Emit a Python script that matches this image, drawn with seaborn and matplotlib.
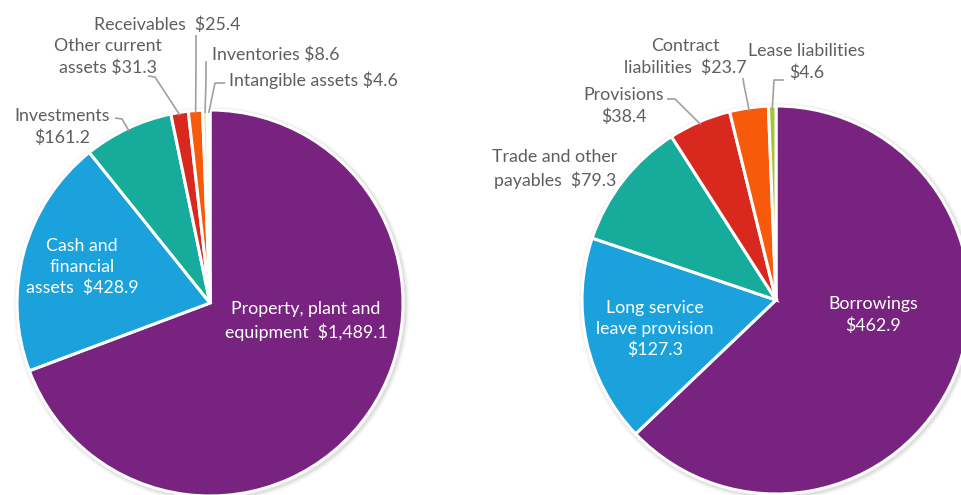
import matplotlib
matplotlib.use("Agg")
import numpy as np
import matplotlib.pyplot as plt
from matplotlib.patches import Circle
import seaborn as sns

# ---- data ($ millions) ----
asset_labels = ["Property, plant and equipment", "Cash and financial assets", "Investments",
                "Other current assets", "Receivables", "Inventories", "Intangible assets"]
asset_values = [1489.1, 428.9, 161.2, 31.3, 25.4, 8.6, 4.6]

liab_labels = ["Borrowings", "Long service leave provision", "Trade and other payables",
               "Provisions", "Contract liabilities", "Lease liabilities"]
liab_values = [462.9, 127.3, 79.3, 38.4, 23.7, 4.6]

asset_colors = sns.color_palette(["#78237F", "#1BA1DC", "#17AB9B", "#D9281E",
                                  "#F85A0C", "#EEE6A8", "#DCE6A0"])
liab_colors = sns.color_palette(["#78237F", "#1BA1DC", "#17AB9B", "#D9281E",
                                 "#F85A0C", "#A8C23A"])

sns.set_theme(style="white")
plt.rcParams["font.family"] = ["Lato", "DejaVu Sans"]

W, H = 962, 495
fig = plt.figure(figsize=(W / 100, H / 100), dpi=100)
ax = fig.add_axes([0, 0, 1, 1])


def P(x, y):
    """Pixel-style coordinates (origin top-left) to axes data coordinates."""
    return (x, H - y)


def money(v):
    return f"${v:,.1f}"


GREY = "#5E5E5E"
LINE = "#A0A0A0"
FS = 12.8


def draw_pie(values, colors, cx, cy, r):
    # soft shadow around the disc
    for k, a in [(5, 0.05), (3.5, 0.08), (2.2, 0.12)]:
        ax.add_patch(Circle(P(cx + 1.5, cy + 1.5), r + k, color="#808080", alpha=a,
                            lw=0, zorder=0))
    wedges, _ = ax.pie(values, colors=colors, startangle=90, counterclock=False,
                       center=P(cx, cy), radius=r,
                       wedgeprops=dict(edgecolor="white", linewidth=2.2))
    return wedges


def leader(wedge, path):
    """Leader line from the label elbow points to the middle of the wedge's rim."""
    th = np.deg2rad((wedge.theta1 + wedge.theta2) / 2)
    ex = wedge.center[0] + wedge.r * np.cos(th) * 0.985
    ey = wedge.center[1] + wedge.r * np.sin(th) * 0.985
    pts = [P(*p) for p in path] + [(ex, ey)]
    xs, ys = zip(*pts)
    ax.plot(xs, ys, color=LINE, lw=1.2, solid_capstyle="butt", zorder=5)


def outer(text, x, y, ha="center"):
    ax.text(*P(x, y), text, ha=ha, va="center", color=GREY, fontsize=FS,
            linespacing=1.38, zorder=6)


def inner(text, x, y):
    ax.text(*P(x, y), text, ha="center", va="center", color="white", fontsize=FS,
            linespacing=1.38, zorder=6)


# ---- assets pie ----
aw = draw_pie(asset_values, asset_colors, 210, 303, 193)
inner(f"Property, plant and\nequipment  {money(asset_values[0])}", 306, 321)
inner(f"Cash and\nfinancial\nassets  {money(asset_values[1])}", 82, 267)

outer(f"Investments\n{money(asset_values[2])}", 62, 127)
leader(aw[2], [(115, 118), (122, 119)])
outer(f"Other current\nassets {money(asset_values[3])}", 108, 57)
leader(aw[3], [(148, 76), (155, 77)])
outer(f"Receivables  {money(asset_values[4])}", 167, 25)
leader(aw[4], [(196, 35), (196, 60)])
outer(f"Inventories {money(asset_values[5])}", 212, 55, ha="left")
leader(aw[5], [(206, 61), (206, 80)])
outer(f"Intangible assets {money(asset_values[6])}", 229, 80, ha="left")
leader(aw[6], [(225, 83), (215, 83)])

# ---- liabilities pie ----
lw_ = draw_pie(liab_values, liab_colors, 776, 300, 194)
inner(f"Borrowings\n{money(liab_values[0])}", 873, 315)
inner(f"Long service\nleave provision\n{money(liab_values[1])}", 655, 329)

outer(f"Trade and other\npayables  {money(liab_values[2])}", 555, 169)
outer(f"Provisions\n{money(liab_values[3])}", 624, 106)
leader(lw_[3], [(667, 99), (675, 99)])
outer(f"Contract\nliabilities  {money(liab_values[4])}", 685, 57)
leader(lw_[4], [(743, 78), (744, 85)])
outer(f"Lease liabilities\n{money(liab_values[5])}", 807, 62)
leader(lw_[5], [(784, 80), (774, 80)])

ax.set_xlim(0, W)
ax.set_ylim(0, H)
ax.set_aspect("equal")
ax.axis("off")

fig.savefig("out.png", dpi=100, facecolor="white")
